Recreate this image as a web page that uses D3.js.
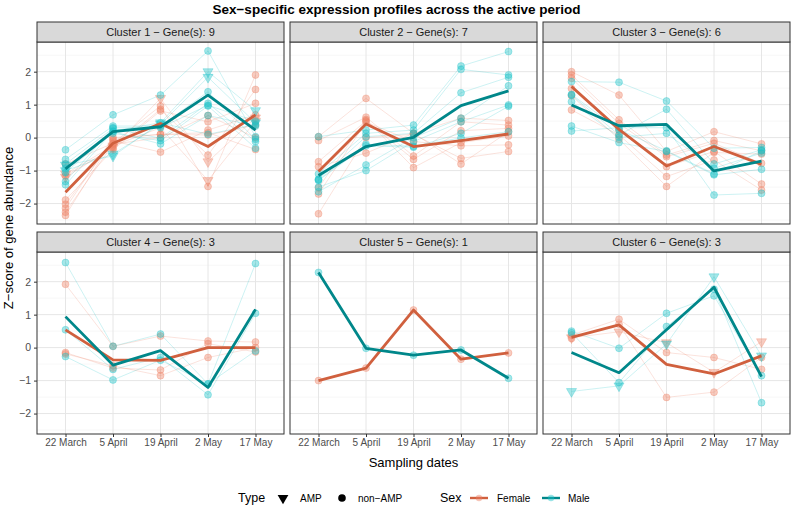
<!DOCTYPE html>
<html>
<head>
<meta charset="utf-8">
<script src="https://cdn.jsdelivr.net/npm/d3@7"></script>
<style>
  body { margin: 0; background: #fff; }
  text { font-family: "Liberation Sans", Arial, sans-serif; }
</style>
</head>
<body>
<div id="chart"></div>
<script>
// sampling dates on the x axis
const dates = ["22 March", "5 April", "19 April", "2 May", "17 May"]
const clusterTitles = [
    "Cluster 1 \u2212 Gene(s): 9", "Cluster 2 \u2212 Gene(s): 7", "Cluster 3 \u2212 Gene(s): 6",
    "Cluster 4 \u2212 Gene(s): 3", "Cluster 5 \u2212 Gene(s): 1", "Cluster 6 \u2212 Gene(s): 3"
]
const yTicks = [-2, -1, 0, 1, 2]
const yMinor = [-2.5, -1.5, -0.5, 0.5, 1.5, 2.5]

// per gene z-scores, one row per gene (dates in order)
const c1Male = [
    [-0.83, -0.56, 0.45, 2.0, 0.82], [-1.0, -0.5, 0.4, 1.83, 0.45], [-0.37, 0.69, 1.29, 2.63, 0.03],
    [-0.66, 0.35, 0.35, 1.39, -0.05], [-0.8, 0.28, -0.02, 1.04, -0.12], [-0.93, 0.13, -0.09, 0.96, -0.32],
    [-1.06, 0.18, -0.19, 0.67, 0.35], [-1.33, 0.3, 0.3, 0.98, 0.5], [-1.43, 0.2, 0.45, 0.1, 0.4]
]
const c1Female = [
    [-1.2, -0.3, 1.19, -0.73, 0.6], [-1.1, -0.25, 0.3, -1.3, 0.5], [-0.8, -0.17, 0.96, -1.48, 1.9],
    [-1.15, -0.32, 0.86, -0.53, 1.46], [-1.89, -0.37, 0.81, 0.48, 1.04], [-2.02, -0.1, -0.44, 0.23, 0.69],
    [-2.14, 0.0, 0.1, 0.08, 0.38], [-2.26, -0.2, 0.0, 0.67, 0.0], [-2.36, -0.05, 0.1, 0.15, -0.36]
]
const c1Amp = [true, true, false, false, false, false, false, false, false]

const c2Male = [
    [0.03, 0.23, 0.38, 2.17, 2.61], [-1.1, 0.13, 0.23, 2.07, 1.9], [-1.26, 0.03, 0.13, 1.36, 1.83],
    [-1.64, -0.83, 0.0, 0.59, 1.57], [-1.5, -1.0, -0.12, 0.48, 0.99], [-1.3, -0.25, -0.29, 0.13, 0.95],
    [-1.28, -0.2, -0.26, -0.01, 0.18]
]
const c2Female = [
    [0.03, 1.19, 0.13, 0.59, 0.52], [-0.09, 0.62, -0.56, 0.48, 0.38], [-0.73, 0.51, -0.66, 0.21, 0.28],
    [-1.52, 0.55, -0.91, -0.15, 0.05], [-1.71, 0.47, -0.12, -0.25, -0.22], [-2.31, 0.0, 0.1, -0.63, -0.42],
    [-0.88, -0.47, 0.13, -0.8, 0.18]
]
const c2Amp = [false, false, false, false, false, false, false]

const c3Male = [
    [1.7, 1.68, 1.11, -0.32, -0.3], [1.29, 0.08, 0.86, -0.8, -0.37], [1.09, 0.01, 0.13, -0.93, -0.47],
    [0.35, -0.15, -0.42, -1.13, -0.96], [0.2, 0.3, 0.3, -1.74, -1.69], [1.31, 0.24, -0.4, -1.1, -0.4]
]
const c3Female = [
    [2.0, 1.29, -0.42, 0.18, -0.19], [1.9, 0.54, -0.53, -0.09, -0.4], [1.8, 0.43, -0.58, -0.17, -0.78],
    [1.49, 0.23, -0.88, -0.42, -1.41], [0.84, 0.08, -1.18, -0.68, -1.59], [1.27, -0.05, -1.48, -0.45, -0.5]
]
const c3Amp = [false, false, false, false, false, false]

const c4Male = [[2.58, 0.04, 0.41, -1.1, 2.55], [0.54, -0.66, -0.3, -1.43, 1.04], [-0.27, -0.98, -0.38, -1.1, -0.1]]
const c4Female = [[1.92, 0.04, 0.35, 0.2, 0.17], [-0.15, -0.62, -0.68, 0.12, -0.13], [-0.19, -0.55, -0.85, -0.3, 0.0]]
const c4Amp = [false, false, false]

const c5Male = [[2.28, -0.02, -0.23, -0.07, -0.93]]
const c5Female = [[-1.0, -0.62, 1.14, -0.35, -0.16]]
const c5Amp = [false]

const c6Male = [[0.5, -0.02, 1.04, 1.57, -0.85], [0.45, -1.06, 0.64, 1.77, -1.67], [-1.33, -1.16, 0.11, 2.15, -0.25]]
const c6Female = [[0.38, 0.86, -0.15, -0.3, -0.66], [0.28, 0.71, -1.51, -1.35, -0.3], [0.3, 0.48, 0.15, -0.75, 0.18]]
const c6Amp = [false, false, true]

// mean profiles (thick lines)
const maleMeans = [
    [-0.95, 0.18, 0.33, 1.29, 0.23], [-1.15, -0.27, 0.01, 0.97, 1.42], [0.99, 0.36, 0.4, -1.01, -0.71],
    [0.94, -0.53, -0.09, -1.21, 1.16], [2.28, -0.02, -0.23, -0.07, -0.93], [-0.15, -0.76, 0.54, 1.83, -0.88]
]
const femaleMeans = [
    [-1.66, -0.17, 0.43, -0.27, 0.69], [-1.03, 0.41, -0.27, -0.09, 0.11], [1.55, 0.25, -0.86, -0.27, -0.81],
    [0.54, -0.37, -0.39, 0.0, 0.0], [-1.0, -0.62, 1.14, -0.35, -0.16], [0.31, 0.69, -0.51, -0.8, -0.25]
]

const males = [c1Male, c2Male, c3Male, c4Male, c5Male, c6Male]
const females = [c1Female, c2Female, c3Female, c4Female, c5Female, c6Female]
const amps = [c1Amp, c2Amp, c3Amp, c4Amp, c5Amp, c6Amp]

const W = 793, H = 507
const left0 = 37, panelW = 247, gapX = 6
const rowTop = [22, 232], stripH = 20, plotH = 182

const col = {
    fPt: "#EE7F62", mPt: "#1CC3C9",
    fLine: "#D0603E", mLine: "#00878A"
}

const svg = d3.select("#chart").append("svg")
    .attr("width", W).attr("height", H)

const x = d3.scalePoint().domain(dates).range([0, panelW]).padding(0.6)
const y = d3.scaleLinear().domain([-2.62, 2.9]).range([plotH, 0])

const line = d3.line().x((d, i) => x(dates[i])).y(d => y(d))
const tri = d3.symbol().type(d3.symbolTriangle).size(44)

function drawPanel(k) {
    let r = Math.floor(k / 3), c = k % 3
    let px = left0 + c * (panelW + gapX)
    let g = svg.append("g").attr("transform", "translate(" + px + "," + (rowTop[r] + stripH) + ")")

    // strip
    let s = svg.append("g").attr("transform", "translate(" + px + "," + rowTop[r] + ")")
    s.append("rect").attr("width", panelW).attr("height", stripH)
        .attr("fill", "#D9D9D9").attr("stroke", "#333").attr("stroke-width", 1)
    s.append("text").attr("x", panelW / 2).attr("y", stripH / 2 + 4)
        .attr("text-anchor", "middle").attr("font-size", 11).attr("fill", "#1a1a1a")
        .text(clusterTitles[k])

    // grid
    g.selectAll(".ymin").data(yMinor).enter().append("line")
        .attr("x1", 0).attr("x2", panelW).attr("y1", d => y(d)).attr("y2", d => y(d))
        .attr("stroke", "#F2F2F2").attr("stroke-width", 0.6)
    g.selectAll(".ymaj").data(yTicks).enter().append("line")
        .attr("x1", 0).attr("x2", panelW).attr("y1", d => y(d)).attr("y2", d => y(d))
        .attr("stroke", "#E6E6E6").attr("stroke-width", 1)
    g.selectAll(".xmaj").data(dates).enter().append("line")
        .attr("x1", d => x(d)).attr("x2", d => x(d)).attr("y1", 0).attr("y2", plotH)
        .attr("stroke", "#E6E6E6").attr("stroke-width", 1)

    // gene lines
    let series = []
    females[k].forEach((v, i) => series.push({ v, sex: "F", amp: amps[k][i] }))
    males[k].forEach((v, i) => series.push({ v, sex: "M", amp: amps[k][i] }))

    series.forEach(sr => {
        g.append("path").attr("d", line(sr.v)).attr("fill", "none")
            .attr("stroke", sr.sex == "F" ? col.fPt : col.mPt)
            .attr("stroke-opacity", 0.22).attr("stroke-width", 1)
    })
    series.forEach(sr => {
        let c = sr.sex == "F" ? col.fPt : col.mPt
        sr.v.forEach((v, i) => {
            if (sr.amp) {
                g.append("path").attr("d", tri())
                    .attr("transform", "translate(" + x(dates[i]) + "," + y(v) + ") rotate(180)")
                    .attr("fill", c).attr("fill-opacity", 0.4)
                    .attr("stroke", c).attr("stroke-opacity", 0.45).attr("stroke-width", 0.7)
            } else {
                g.append("circle").attr("cx", x(dates[i])).attr("cy", y(v)).attr("r", 3.5)
                    .attr("fill", c).attr("fill-opacity", 0.4)
                    .attr("stroke", c).attr("stroke-opacity", 0.45).attr("stroke-width", 0.7)
            }
        })
    })

    // mean lines
    g.append("path").attr("d", line(femaleMeans[k])).attr("fill", "none")
        .attr("stroke", col.fLine).attr("stroke-width", 2.8).attr("stroke-linejoin", "round")
    g.append("path").attr("d", line(maleMeans[k])).attr("fill", "none")
        .attr("stroke", col.mLine).attr("stroke-width", 2.8).attr("stroke-linejoin", "round")

    g.append("rect").attr("width", panelW).attr("height", plotH)
        .attr("fill", "none").attr("stroke", "#333").attr("stroke-width", 1)

    // axes
    if (c == 0) {
        let ya = g.append("g").call(d3.axisLeft(y).tickValues(yTicks).tickSize(3).tickPadding(3)
            .tickFormat(d => d < 0 ? "\u2212" + Math.abs(d) : d))
        ya.select(".domain").remove()
        ya.selectAll("line").attr("stroke", "#333")
        ya.selectAll("text").attr("font-size", 10.5).attr("fill", "#4d4d4d")
            .style("font-family", "Liberation Sans, Arial, sans-serif")
    }
    if (r == 1) {
        let xa = g.append("g").attr("transform", "translate(0," + plotH + ")")
            .call(d3.axisBottom(x).tickSize(3).tickPadding(2))
        xa.select(".domain").remove()
        xa.selectAll("line").attr("stroke", "#333")
        xa.selectAll("text").attr("font-size", 10).attr("fill", "#4d4d4d")
            .style("font-family", "Liberation Sans, Arial, sans-serif")
    }
}

for (let k = 0; k < 6; k++) drawPanel(k)

let panelsMid = left0 + (3 * panelW + 2 * gapX) / 2

// the title is centred on the whole figure
svg.append("text").attr("x", W / 2).attr("y", 14).attr("text-anchor", "middle")
    .attr("font-size", 13.5).attr("font-weight", "bold")
    .text("Sex\u2212specific expression profiles across the active period")

svg.append("text").attr("x", panelsMid).attr("y", 467).attr("text-anchor", "middle")
    .attr("font-size", 13).text("Sampling dates")

svg.append("text").attr("transform", "translate(13," + ((rowTop[0] + rowTop[1] + stripH + plotH) / 2) + ") rotate(-90)")
    .attr("text-anchor", "middle").attr("font-size", 13).text("Z\u2212score of gene abundance")

// legend
let ly = 498
let lg = svg.append("g")
lg.append("text").attr("x", 238).attr("y", ly + 4).attr("font-size", 12.5).text("Type")
lg.append("path").attr("d", d3.symbol().type(d3.symbolTriangle).size(50)())
    .attr("transform", "translate(283," + ly + ") rotate(180)").attr("fill", "#000")
lg.append("text").attr("x", 300).attr("y", ly + 4).attr("font-size", 10).text("AMP")
lg.append("circle").attr("cx", 342).attr("cy", ly).attr("r", 3.8).attr("fill", "#000")
lg.append("text").attr("x", 358).attr("y", ly + 4).attr("font-size", 10).text("non\u2212AMP")
lg.append("text").attr("x", 440).attr("y", ly + 4).attr("font-size", 12.5).text("Sex")
;[["Female", col.fLine, col.fPt, 470, 497], ["Male", col.mLine, col.mPt, 542, 568]].forEach(d => {
    lg.append("line").attr("x1", d[3]).attr("x2", d[3] + 18).attr("y1", ly).attr("y2", ly)
        .attr("stroke", d[1]).attr("stroke-width", 2.4)
    lg.append("circle").attr("cx", d[3] + 9).attr("cy", ly).attr("r", 3.2)
        .attr("fill", d[2]).attr("fill-opacity", 0.45)
    lg.append("text").attr("x", d[4]).attr("y", ly + 4).attr("font-size", 10).text(d[0])
})
</script>
</body>
</html>
